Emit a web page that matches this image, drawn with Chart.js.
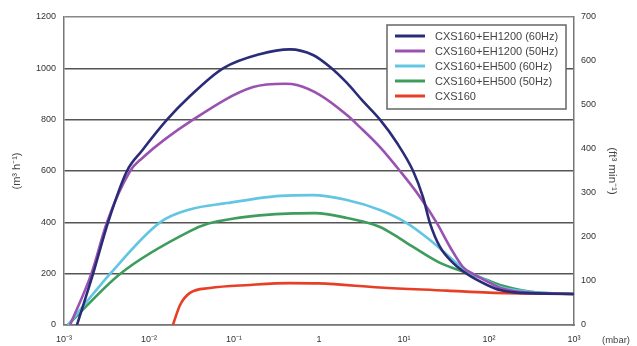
<!DOCTYPE html>
<html><head><meta charset="utf-8">
<script src="https://cdn.jsdelivr.net/npm/chart.js@4"></script>
<style>html,body{margin:0;padding:0;background:#fff;}canvas{display:block;}</style>
</head><body>
<canvas id="c" style="width:637px;height:346px"></canvas>
<script>
// ---- data (pressure in mbar, flow in m3/h) ----
const seriesLabels = ['CXS160+EH1200 (60Hz)','CXS160+EH1200 (50Hz)','CXS160+EH500 (60Hz)','CXS160+EH500 (50Hz)','CXS160'];
const seriesColors = ['#2b2c78','#9a52b0','#62c6e2','#3e9c5c','#e63f26'];

const pEH1200_60 = [0.00142,0.0022,0.0033,0.0055,0.0083,0.0163,0.030,0.0743,0.2,0.456,0.85,1.35,2.13,3.29,5.22,8.28,12.8,16.7,20.2,26.5,37.7,55,95,135,232,1000];
const qEH1200_60 = [0,200,400,600,680,800,890,1000,1055,1074,1052,1005,943,872,800,709,600,499,397,304,242,199,156,136,125,121];

const pEH1200_50 = [0.00118,0.0021,0.0032,0.006,0.0083,0.033,0.168,0.4,0.55,1.03,2.13,3.03,5.22,8.97,15.4,24.4,34.8,49.4,65,103,135,303,1000];
const qEH1200_50 = [0,200,400,600,650,800,927,940,935,896,818,771,693,600,499,397,304,226,199,164,144,125,121];

const pEH500_60 = [0.00111,0.0035,0.0135,0.030,0.083,0.35,0.85,2.13,5.22,10.8,20.2,37.7,55,78,135,456,1000];
const qEH500_60 = [0,200,400,450,475,503,506,487,448,397,331,253,206,187,148,125,121];

const pEH500_50 = [0.00111,0.0046,0.030,0.05,0.1,0.2,0.5,0.9,2.13,5.22,8.0,12.8,26.5,55,95,135,398,1000];
const qEH500_50 = [0,200,365,395,415,427,435,436,417,382,347,304,242,203,175,156,125,121];

const pCXS160 = [0.0191,0.0232,0.0303,0.052,0.154,0.45,1.0,5.2,32,100,1000];
const qCXS160 = [0,78,125,144,156,163,162,146,134,126,121];

const xTickValues = [1e-3,1e-2,1e-1,1,1e1,1e2,1e3];
const xTickLabels = ['10\u207B\u00B3','10\u207B\u00B2','10\u207B\u00B9','1','10\u00B9','10\u00B2','10\u00B3'];
const yLeftTicks = [0,200,400,600,800,1000,1200];
const yRightTicks = [0,100,200,300,400,500,600,700];

const pressures = [pEH1200_60,pEH1200_50,pEH500_60,pEH500_50,pCXS160];
const flows = [qEH1200_60,qEH1200_50,qEH500_60,qEH500_50,qCXS160];

Chart.defaults.font.family = '"Liberation Sans", Arial, sans-serif';
Chart.defaults.color = '#444';

const datasets = seriesLabels.map((lab,i)=>({
  label: lab,
  data: pressures[i].map((p,j)=>({x:p,y:flows[i][j]})),
  borderColor: seriesColors[i],
  backgroundColor: seriesColors[i],
  borderWidth: 2.6,
  pointRadius: 0,
  cubicInterpolationMode: 'monotone',
  fill: false
}));

const boxLegend = {
  id: 'boxLegend',
  afterDatasetsDraw(chart){
    const ctx = chart.ctx, a = chart.chartArea;
    const w = 179, h = 84, x = a.right - 8 - w, y = a.top + 8;
    ctx.save();
    ctx.fillStyle = '#fff'; ctx.fillRect(x,y,w,h);
    ctx.strokeStyle = '#666'; ctx.lineWidth = 1.5; ctx.strokeRect(x,y,w,h);
    chart.data.datasets.forEach((ds,i)=>{
      const yy = y + 11 + i*15;
      ctx.strokeStyle = ds.borderColor; ctx.lineWidth = 3;
      ctx.beginPath(); ctx.moveTo(x+8,yy); ctx.lineTo(x+38,yy); ctx.stroke();
      ctx.fillStyle = '#444'; ctx.font = '11px "Liberation Sans", Arial, sans-serif';
      ctx.textBaseline = 'middle'; ctx.textAlign = 'left';
      ctx.fillText(ds.label, x+48, yy+0.5);
    });
    ctx.font = '9.5px "Liberation Sans", Arial, sans-serif';
    ctx.textAlign = 'center'; ctx.textBaseline = 'middle'; ctx.fillStyle = '#444';
    ctx.fillText('(mbar)', 616, 340);
    ctx.restore();
  }
};

new Chart(document.getElementById('c'), {
  type: 'line',
  data: { datasets },
  plugins: [boxLegend],
  options: {
    responsive: false,
    animation: false,
    layout: { padding: { top: 17, left: 0, right: 0, bottom: 0 } },
    plugins: { legend: { display: false }, tooltip: { enabled: false } },
    scales: {
      x: {
        type: 'logarithmic', min: 1e-3, max: 1e3,
        afterBuildTicks: s => { s.ticks = xTickValues.map(v=>({value:v})); },
        afterFit: s => { s.height = 21; },
        ticks: { autoSkip: false, maxRotation: 0, padding: 9, font: { size: 9 }, color: '#333',
                 callback: (v,i) => xTickLabels[i] },
        grid: { display: false, drawTicks: false },
        border: { display: true, color: '#777', width: 1.5 }
      },
      y: {
        position: 'left', min: 0, max: 1200,
        afterBuildTicks: s => { s.ticks = yLeftTicks.map(v=>({value:v})); },
        afterFit: s => { s.width = 64; },
        ticks: { padding: 8, font: { size: 9 }, color: '#333', callback: v => String(v) },
        grid: { color: ctx => (ctx.tick && ctx.tick.value === 1200) ? '#888' : '#555', lineWidth: 1.5, drawTicks: false },
        border: { display: true, color: '#777', width: 1.5 },
        title: { display: true, text: '(m\u00B3 h\u207B\u00B9)', font: { size: 11 }, color: '#444', padding: { top: 10, bottom: 0 } }
      },
      y2: {
        position: 'right', min: 0, max: 700,
        afterBuildTicks: s => { s.ticks = yRightTicks.map(v=>({value:v})); },
        afterFit: s => { s.width = 63; },
        ticks: { padding: 7, font: { size: 9 }, color: '#333', callback: v => String(v) },
        grid: { display: false, drawTicks: false },
        border: { display: true, color: '#777', width: 1.5 },
        title: { display: true, text: '(ft\u00B3 min\u207B\u00B9)', font: { size: 11.5 }, color: '#444', padding: { top: 18, bottom: 0 } }
      }
    }
  }
});
</script>
</body></html>
